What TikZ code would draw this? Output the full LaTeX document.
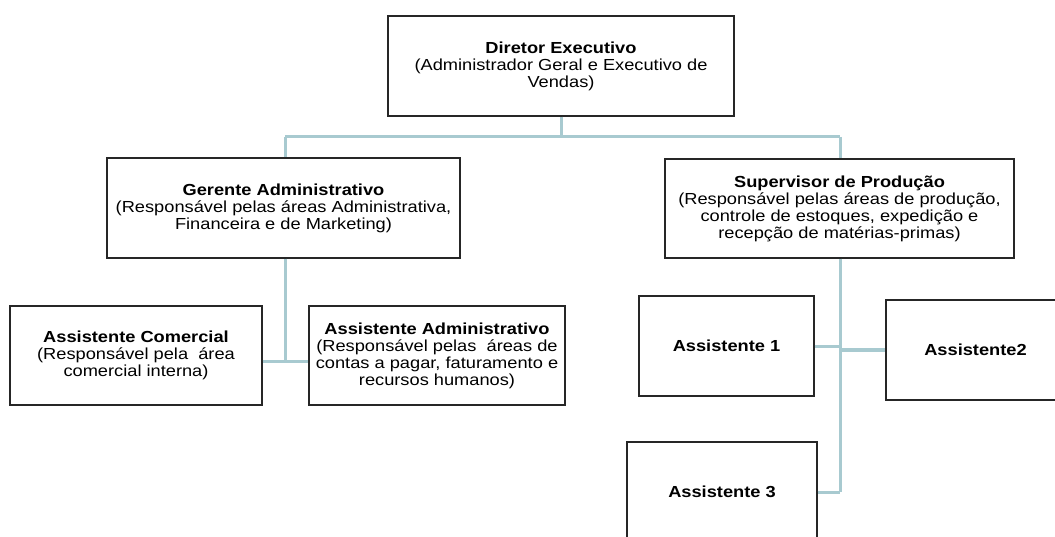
\documentclass[tikz,border=0pt]{standalone}
\usepackage{fontspec}
\setmainfont[FakeStretch=1.14]{Liberation Sans}
\begin{document}
\begin{tikzpicture}[x=1pt,y=-1pt,
  orgbox/.style={draw=black!85, line width=1.3pt, fill=white, align=center,
    inner sep=0pt, font=\fontsize{16}{17}\selectfont},
  link/.style={draw={rgb,255:red,168;green,202;blue,208}, line width=3pt}]
  \useasboundingbox (0,0) rectangle (1055,537);
  \clip (0,0) rectangle (1055,537);

  % boxes
  \node[orgbox, minimum width=346pt, minimum height=100pt] (dir) at (561,66)
    {\textbf{Diretor Executivo}\\(Administrador Geral e Executivo de\\Vendas)};
  \node[orgbox, minimum width=353pt, minimum height=100pt] (ger) at (283.5,208)
    {\textbf{Gerente Administrativo}\\(Responsável pelas áreas Administrativa,\\Financeira e de Marketing)};
  \node[orgbox, minimum width=349pt, minimum height=99pt] (sup) at (839.5,208.5)
    {\textbf{Supervisor de Produção}\\(Responsável pelas áreas de produção,\\controle de estoques, expedição e\\recepção de matérias-primas)};
  \node[orgbox, minimum width=252pt, minimum height=99pt] (com) at (136,355.5)
    {\textbf{Assistente Comercial}\\(Responsável pela\ \ área\\comercial interna)};
  \node[orgbox, minimum width=256pt, minimum height=99pt] (adm) at (437,355.5)
    {\textbf{Assistente Administrativo}\\(Responsável pelas\ \ áreas de\\contas a pagar, faturamento e\\recursos humanos)};
  \node[orgbox, minimum width=175pt, minimum height=100pt] (a1) at (726.5,346)
    {\textbf{Assistente 1}};
  \node[orgbox, minimum width=179pt, minimum height=100pt] (a2) at (975.5,350)
    {\textbf{Assistente2}};
  \node[orgbox, minimum width=190pt, minimum height=100pt] (a3) at (722,492)
    {\textbf{Assistente 3}};

  % junction points
  \coordinate (busL) at (285,137);
  \coordinate (busR) at (840,137);
  \coordinate (gj) at (285,361);
  \coordinate (s1) at (840,347);
  \coordinate (s2) at (840,350);
  \coordinate (s3) at (840,492);

  % connectors
  \draw[link] (dir.south) -- (dir.south |- busL);
  \draw[link] (busL) -- (busR);
  \draw[link] (busL) -- (busL |- ger.north);
  \draw[link] (busR) -- (busR |- sup.north);
  \draw[link] (gj |- ger.south) -- (gj);
  \draw[link] (com.east |- gj) -- (adm.west |- gj);
  \draw[link] (s3 |- sup.south) -- (s3);
  \draw[link] (a1.east |- s1) -- (s1);
  \draw[link] (s2) -- (a2.west |- s2);
  \draw[link] (a3.east |- s3) -- (s3);
\end{tikzpicture}
\end{document}
